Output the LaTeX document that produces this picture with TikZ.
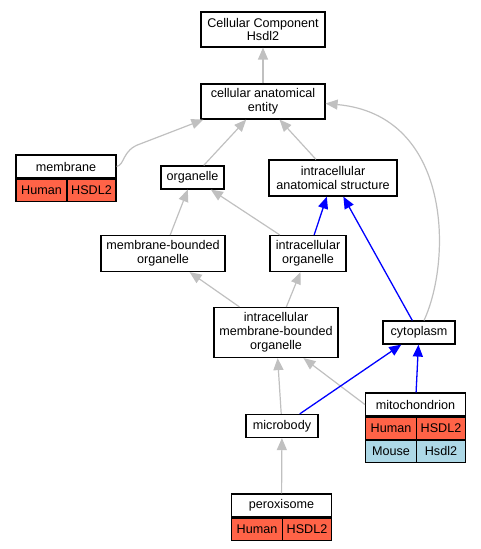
\documentclass[tikz,border=0pt]{standalone}
\usepackage{fontspec}
\setmainfont{Liberation Sans}
\usetikzlibrary{arrows.meta}
\definecolor{isagray}{HTML}{C0C0C0}
\definecolor{tomato}{HTML}{FF6347}
\definecolor{lightblue}{HTML}{ADD8E6}
\begin{document}
\begin{tikzpicture}[x=1bp,y=-1bp,
		term/.style={draw,line width=1.2bp,fill=white,align=center,inner sep=0pt,
			font=\fontsize{12.6bp}{13.8bp}\selectfont},
		human/.style={term,fill=tomato,minimum height=22bp},
		mouse/.style={term,fill=lightblue,minimum height=22bp},
		isa/.style={draw=isagray,line width=1.2bp,-{Triangle[length=12bp,width=10bp]}},
		partof/.style={draw=blue,line width=1.3bp,-{Triangle[length=12bp,width=10bp]}}]
		\useasboundingbox (0,0) rectangle (481,549);

		\node[term,minimum width=124bp,minimum height=35bp] (cc) at (263,29.5){Cellular Component\\Hsdl2};
		\node[term,minimum width=124bp,minimum height=35bp] (cae) at (263,101.5){cellular anatomical\\entity};

		\node[term,minimum width=100bp,minimum height=23bp] (mem) at (66,166.5){membrane};
		\node[human,minimum width=51bp,anchor=north west] (memh) at (mem.south west){Human};
		\node[human,minimum width=49bp,anchor=north east] (memg) at (mem.south east){HSDL2};

		\node[term,minimum width=63bp,minimum height=23bp] (org) at (192.5,177.5){organelle};
		\node[term,minimum width=128bp,minimum height=36bp] (ias) at (333,178){intracellular\\anatomical structure};
		\node[term,minimum width=124bp,minimum height=36bp] (mbo) at (163,253.5){membrane-bounded\\organelle};
		\node[term,minimum width=76bp,minimum height=36bp] (io) at (308,253.5){intracellular\\organelle};
		\node[term,minimum width=124bp,minimum height=50bp] (imbo) at (276,332.5){intracellular\\membrane-bounded\\organelle};
		\node[term,minimum width=72bp,minimum height=23bp] (cyto) at (419,332.5){cytoplasm};

		\node[term,minimum width=100bp,minimum height=23bp] (mito) at (415.5,404.5){mitochondrion};
		\node[human,minimum width=51bp,anchor=north west] (mitoh) at (mito.south west){Human};
		\node[human,minimum width=49bp,anchor=north east] (mitog) at (mito.south east){HSDL2};
		\node[mouse,minimum width=51bp,anchor=north west] (mitom) at (mitoh.south west){Mouse};
		\node[mouse,minimum width=49bp,anchor=north east] (mitomg) at (mitog.south east){Hsdl2};

		\node[term,minimum width=72bp,minimum height=23bp] (micro) at (282,426){microbody};

		\node[term,minimum width=100bp,minimum height=23bp] (perox) at (281.5,505.5){peroxisome};
		\node[human,minimum width=51bp,anchor=north west] (peroxh) at (perox.south west){Human};
		\node[human,minimum width=49bp,anchor=north east] (peroxg) at (perox.south east){HSDL2};

		\draw[isa] (cae) -- (cc);
		\draw[isa] (org) -- (cae);
		\draw[isa] (ias) -- (cae);
		\draw[isa] (mem.east) .. controls (125,165) and (122,150) .. (140,144) -- ([xshift=3bp]cae.south west);
		\draw[isa] ([xshift=5bp]cyto.north) .. controls (452,260) and (452,115) .. ([yshift=-2bp]cae.east);
		\draw[isa] (mbo) -- (org);
		\draw[isa] (io) -- (org);
		\draw[isa] (imbo) -- (mbo);
		\draw[isa] (imbo) -- (io);
		\draw[isa] (micro) -- (imbo);
		\draw[isa] (mito.west) -- (imbo.-43);
		\draw[isa] (perox) -- (micro);

		\draw[partof] (io) -- (ias);
		\draw[partof] (cyto) -- (ias);
		\draw[partof] (micro) -- (cyto);
		\draw[partof] (mito) -- (cyto);
	\end{tikzpicture}
\end{document}
